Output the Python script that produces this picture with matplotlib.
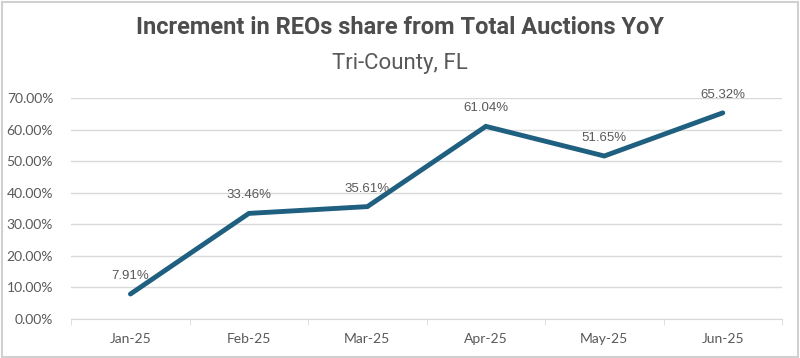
import matplotlib.pyplot as plt
from matplotlib.patches import Rectangle

months = ['Jan-25', 'Feb-25', 'Mar-25', 'Apr-25', 'May-25', 'Jun-25']
share = [7.91, 33.46, 35.61, 61.04, 51.65, 65.32]
yticks = [0, 10, 20, 30, 40, 50, 60, 70]

line_color = '#1f5f7f'
text_color = '#595959'
grid_color = '#d9d9d9'

fig = plt.figure(figsize=(8, 3.58), dpi=100)
ax = fig.add_axes([0.089, 0.109, 0.8885, 0.617])

x = list(range(len(months)))
ax.plot(x, share, color=line_color, lw=3.5, solid_capstyle='round', solid_joinstyle='miter', zorder=3)

for xi, v in zip(x, share):
    ax.annotate(f'{v:.2f}%', (xi, v), xytext=(0, 13), textcoords='offset points',
                ha='center', va='center', fontsize=9.5, color=text_color,
                family='Liberation Sans')

ax.set_xlim(-0.5, len(months) - 0.5)
ax.set_ylim(0, 70)
ax.set_yticks(yticks)
ax.set_yticklabels([f'{t:.2f}%' for t in yticks], family='Lato', fontsize=10, color=text_color)
ax.set_xticks(x)
ax.set_xticklabels(months, family='Lato', fontsize=10, color=text_color)
ax.tick_params(axis='y', length=0, pad=13)
ax.tick_params(axis='x', length=0, pad=10)
ax.set_xticks([i - 0.5 for i in range(len(months) + 1)], minor=True)
ax.tick_params(axis='x', which='minor', length=4, color=grid_color)

ax.grid(axis='y', color=grid_color, lw=1)
ax.set_axisbelow(True)
for s in ['top', 'right', 'left']:
    ax.spines[s].set_visible(False)
ax.spines['bottom'].set_color(grid_color)

fig.text(0.5, 0.922, 'Increment in REOs share from Total Auctions YoY', ha='center', va='center',
         fontsize=17, fontweight='bold', color='#4d4d4d', family='Roboto')
fig.text(0.5, 0.823, 'Tri-County, FL', ha='center', va='center',
         fontsize=16, color=text_color, family='Roboto')

fig.patches.append(Rectangle((0.003, 0.004), 0.994, 0.99, transform=fig.transFigure,
                             fill=False, edgecolor='#d0d0d0', lw=1.5))

fig.savefig('out.png', dpi=100)
